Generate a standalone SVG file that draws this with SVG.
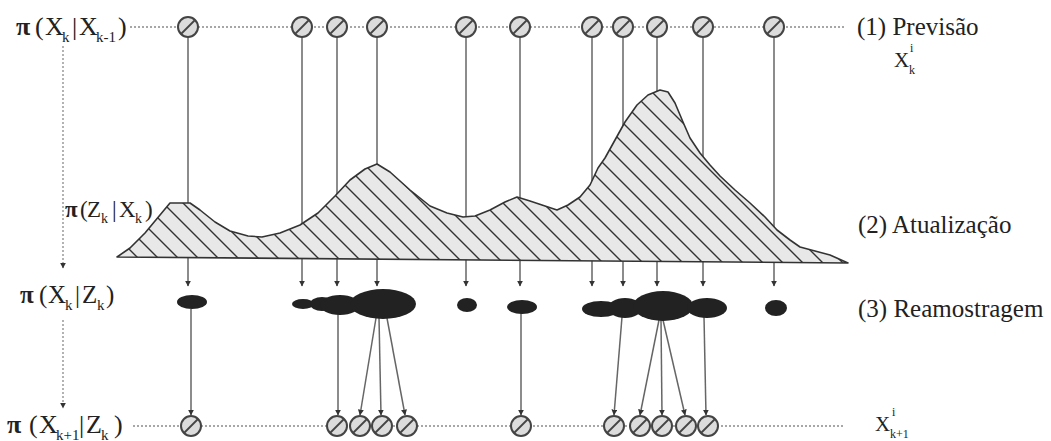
<svg xmlns="http://www.w3.org/2000/svg" xmlns:xlink="http://www.w3.org/1999/xlink" width="1051" height="441" viewBox="0 0 1051 441">
  <style>
    .lbl { font-family: "Liberation Serif", "Times New Roman", serif; fill: #222; }
    .math { font-size: 26px; }
    .pi { font-weight: bold; }
    .sub { font-size: 15px; }
    .step { font-size: 25px; }
    .dot { stroke: #8a8a8a; stroke-width: 1.3; stroke-dasharray: 2 2; fill: none; }
    .link { stroke: #666; stroke-width: 1.5; fill: none; }
    .blob { fill: #222; }
  </style>
  <defs>
    <marker id="tip" viewBox="0 0 10 10" refX="9" refY="5" markerWidth="6" markerHeight="6" orient="auto" markerUnits="userSpaceOnUse">
      <path d="M0,0 L10,5 L0,10 z" fill="#333"/>
    </marker>
    <pattern id="hatch" patternUnits="userSpaceOnUse" width="20" height="20">
      <rect width="20" height="20" fill="#e8e8e8"/>
      <path d="M-5,-5 L25,25 M-5,15 L5,25 M15,-5 L25,5" stroke="#333" stroke-width="1.4"/>
    </pattern>
    <g id="particle">
      <circle r="10" fill="#dcdcdc" stroke="#444" stroke-width="2"/>
      <line x1="-7" y1="7" x2="7" y2="-7" stroke="#444" stroke-width="1.8"/>
    </g>
  </defs>
  <rect width="1051" height="441" fill="#fff"/>

  <!-- connectors -->
  <g id="connectors">
    <!-- row guides -->
    <line class="dot" x1="130" y1="27" x2="845" y2="27"/>
    <line class="dot" x1="133" y1="426" x2="845" y2="426"/>
    <!-- left step arrows -->
    <line class="dot" x1="63" y1="46" x2="63" y2="268" marker-end="url(#tip)"/>
    <line class="dot" x1="63" y1="320" x2="63" y2="408" marker-end="url(#tip)"/>
    <!-- prediction samples down to the likelihood and on to the weights -->
    <line class="link" x1="188" y1="37" x2="188" y2="286" marker-end="url(#tip)"/>
    <line class="link" x1="302" y1="37" x2="302" y2="286" marker-end="url(#tip)"/>
    <line class="link" x1="337" y1="37" x2="337" y2="286" marker-end="url(#tip)"/>
    <line class="link" x1="377" y1="37" x2="377" y2="286" marker-end="url(#tip)"/>
    <line class="link" x1="466" y1="37" x2="466" y2="286" marker-end="url(#tip)"/>
    <line class="link" x1="520" y1="37" x2="520" y2="286" marker-end="url(#tip)"/>
    <line class="link" x1="592" y1="37" x2="592" y2="286" marker-end="url(#tip)"/>
    <line class="link" x1="623" y1="37" x2="623" y2="286" marker-end="url(#tip)"/>
    <line class="link" x1="657" y1="37" x2="657" y2="286" marker-end="url(#tip)"/>
    <line class="link" x1="703" y1="37" x2="703" y2="286" marker-end="url(#tip)"/>
    <line class="link" x1="774" y1="37" x2="774" y2="286" marker-end="url(#tip)"/>
    <!-- resampling -->
    <line class="link" x1="191" y1="309" x2="191" y2="415" marker-end="url(#tip)"/>
    <line class="link" x1="338" y1="312" x2="338" y2="415" marker-end="url(#tip)"/>
    <line class="link" x1="376" y1="318" x2="360" y2="415" marker-end="url(#tip)"/>
    <line class="link" x1="379" y1="318" x2="381" y2="415" marker-end="url(#tip)"/>
    <line class="link" x1="387" y1="318" x2="405" y2="415" marker-end="url(#tip)"/>
    <line class="link" x1="521" y1="313" x2="521" y2="415" marker-end="url(#tip)"/>
    <line class="link" x1="622" y1="317" x2="614" y2="415" marker-end="url(#tip)"/>
    <line class="link" x1="659" y1="320" x2="640" y2="415" marker-end="url(#tip)"/>
    <line class="link" x1="661" y1="320" x2="662" y2="415" marker-end="url(#tip)"/>
    <line class="link" x1="663" y1="320" x2="685" y2="415" marker-end="url(#tip)"/>
    <line class="link" x1="704" y1="317" x2="706" y2="415" marker-end="url(#tip)"/>
  </g>

  <!-- likelihood curve -->
  <g id="likelihood">
    <path d="M117,257 L130,248 L145,233 L160,215 L170,203 L190,203 L200,210 L215,222 L230,231 L248,236 L262,237 L280,233 L300,225 L318,213 L335,196 L350,180 L365,169 L377,164 L390,172 L410,190 L430,206 L447,213 L463,217 L475,216 L490,210 L505,202 L517,197 L530,201 L545,206 L557,210 L568,205 L580,197 L590,185 L598,168 L605,158 L615,140 L625,122 L637,105 L648,95 L660,90 L668,92 L675,103 L683,122 L690,138 L700,153 L710,165 L720,176 L735,190 L750,203 L765,217 L777,230 L790,240 L800,247 L815,251 L830,255 L848,263 Z" fill="url(#hatch)" stroke="#333" stroke-width="1.6" stroke-linejoin="round"/>
  </g>

  <!-- weighted samples -->
  <g id="weight-1"><ellipse class="blob" cx="192" cy="302" rx="15" ry="7"/></g>
  <g id="weight-2">
    <ellipse class="blob" cx="303" cy="304" rx="11" ry="5"/>
    <ellipse class="blob" cx="322" cy="304" rx="12" ry="7"/>
    <ellipse class="blob" cx="340" cy="305" rx="20" ry="10"/>
    <ellipse class="blob" cx="383" cy="304" rx="33" ry="15"/>
  </g>
  <g id="weight-3"><ellipse class="blob" cx="467" cy="305" rx="10" ry="7"/></g>
  <g id="weight-4"><ellipse class="blob" cx="522" cy="307" rx="15" ry="7"/></g>
  <g id="weight-5">
    <ellipse class="blob" cx="601" cy="309" rx="19" ry="8"/>
    <ellipse class="blob" cx="625" cy="308" rx="17" ry="10"/>
    <ellipse class="blob" cx="663" cy="306" rx="30" ry="15"/>
    <ellipse class="blob" cx="707" cy="308" rx="20" ry="10"/>
  </g>
  <g id="weight-6"><ellipse class="blob" cx="776" cy="308" rx="11" ry="8"/></g>

  <!-- predicted samples -->
  <g id="pred-1"><use xlink:href="#particle" x="188" y="27"/></g>
  <g id="pred-2"><use xlink:href="#particle" x="302" y="27"/></g>
  <g id="pred-3"><use xlink:href="#particle" x="337" y="27"/></g>
  <g id="pred-4"><use xlink:href="#particle" x="377" y="27"/></g>
  <g id="pred-5"><use xlink:href="#particle" x="466" y="27"/></g>
  <g id="pred-6"><use xlink:href="#particle" x="520" y="27"/></g>
  <g id="pred-7"><use xlink:href="#particle" x="592" y="27"/></g>
  <g id="pred-8"><use xlink:href="#particle" x="623" y="27"/></g>
  <g id="pred-9"><use xlink:href="#particle" x="657" y="27"/></g>
  <g id="pred-10"><use xlink:href="#particle" x="703" y="27"/></g>
  <g id="pred-11"><use xlink:href="#particle" x="774" y="27"/></g>

  <!-- resampled set -->
  <g id="res-1"><use xlink:href="#particle" x="191" y="426"/></g>
  <g id="res-2"><use xlink:href="#particle" x="337" y="426"/></g>
  <g id="res-3"><use xlink:href="#particle" x="360" y="426"/></g>
  <g id="res-4"><use xlink:href="#particle" x="382" y="426"/></g>
  <g id="res-5"><use xlink:href="#particle" x="407" y="426"/></g>
  <g id="res-6"><use xlink:href="#particle" x="521" y="426"/></g>
  <g id="res-7"><use xlink:href="#particle" x="614" y="426"/></g>
  <g id="res-8"><use xlink:href="#particle" x="640" y="426"/></g>
  <g id="res-9"><use xlink:href="#particle" x="662" y="426"/></g>
  <g id="res-10"><use xlink:href="#particle" x="686" y="426"/></g>
  <g id="res-11"><use xlink:href="#particle" x="708" y="426"/></g>

  <!-- distribution labels -->
  <g id="label-prior">
    <text class="lbl math" y="35"><tspan class="pi" x="16">π</tspan><tspan x="35">(</tspan><tspan x="45">X</tspan><tspan class="sub" x="62" y="42">k</tspan><tspan x="72" y="35">|</tspan><tspan x="79">X</tspan><tspan class="sub" x="96" y="42">k-1</tspan><tspan x="118" y="35">)</tspan></text>
  </g>
  <g id="label-likelihood">
    <text class="lbl" style="font-size:23px" y="217"><tspan class="pi" x="65">π</tspan><tspan x="80">(</tspan><tspan x="87">Z</tspan><tspan class="sub" x="101" y="223" style="font-size:14px">k</tspan><tspan x="112" y="217">|</tspan><tspan x="119">X</tspan><tspan class="sub" x="135" y="223" style="font-size:14px">k</tspan><tspan x="145" y="217">)</tspan></text>
  </g>
  <g id="label-posterior">
    <text class="lbl" style="font-size:25px" y="303"><tspan class="pi" x="20">π</tspan><tspan x="39">(</tspan><tspan x="48">X</tspan><tspan class="sub" x="65" y="310" style="font-size:15px">k</tspan><tspan x="75" y="303">|</tspan><tspan x="82">Z</tspan><tspan class="sub" x="97" y="310" style="font-size:15px">k</tspan><tspan x="106" y="303">)</tspan></text>
  </g>
  <g id="label-next">
    <text class="lbl math" y="433"><tspan class="pi" x="7">π</tspan><tspan x="29">(</tspan><tspan x="39">X</tspan><tspan class="sub" x="56" y="440">k+1</tspan><tspan x="79" y="433">|</tspan><tspan x="86">Z</tspan><tspan class="sub" x="101" y="440">k</tspan><tspan x="114" y="433">)</tspan></text>
  </g>

  <!-- step labels -->
  <g id="step-1">
    <text class="lbl step" x="857" y="35">(1) Previsão</text>
    <text class="lbl" style="font-size:21px" x="894" y="67">X</text>
    <text class="lbl" style="font-size:12px" x="910" y="52">i</text>
    <text class="lbl" style="font-size:12px" x="909" y="74">k</text>
  </g>
  <g id="step-2"><text class="lbl step" x="858" y="233">(2) Atualização</text></g>
  <g id="step-3"><text class="lbl step" x="858" y="317">(3) Reamostragem</text></g>
  <g id="label-resampled">
    <text class="lbl" style="font-size:21px" x="875" y="431">X</text>
    <text class="lbl" style="font-size:12px" x="892" y="416">i</text>
    <text class="lbl" style="font-size:12px" x="890" y="438">k+1</text>
  </g>
</svg>
